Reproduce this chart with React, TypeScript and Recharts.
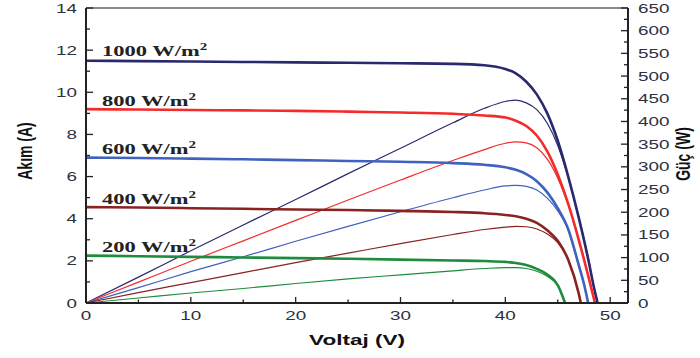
import { Line, LineChart, ReferenceLine, XAxis, YAxis } from "recharts";

// voltage (V), current (A), power (W)
const v1000 = [0, 5, 10, 15, 20, 25, 30, 35, 38, 40, 41, 42, 43, 44, 45, 46, 47, 48, 48.4, 48.8];
const i1000 = [11.5, 11.48, 11.46, 11.44, 11.42, 11.4, 11.38, 11.35, 11.28, 11.1, 10.9, 10.5, 9.9, 9.0, 7.7, 6.0, 4.05, 1.85, 0.85, 0];
const p1000 = [0, 57, 115, 172, 228, 285, 341, 397, 429, 444, 447, 441, 426, 396, 347, 276, 190, 89, 41, 0];

const v800 = [0, 5, 10, 15, 20, 25, 30, 35, 38, 40, 41, 42, 43, 44, 45, 46, 47, 48, 48.55];
const i800 = [9.2, 9.18, 9.16, 9.14, 9.12, 9.08, 9.04, 8.98, 8.9, 8.8, 8.65, 8.4, 7.95, 7.2, 6.1, 4.7, 3.0, 1.1, 0];
const p800 = [0, 46, 92, 137, 182, 227, 271, 314, 338, 352, 355, 353, 342, 317, 275, 216, 141, 53, 0];

const v600 = [0, 5, 10, 15, 20, 25, 30, 35, 38, 40, 41, 42, 43, 44, 45, 46, 47, 47.5, 47.9];
const i600 = [6.9, 6.88, 6.85, 6.82, 6.78, 6.74, 6.7, 6.64, 6.56, 6.44, 6.32, 6.12, 5.78, 5.25, 4.5, 3.5, 1.8, 0.9, 0];
const p600 = [0, 34, 69, 102, 136, 169, 201, 232, 249, 258, 259, 257, 249, 231, 203, 161, 85, 43, 0];

const v400 = [0, 5, 10, 15, 20, 25, 30, 35, 38, 40, 41, 42, 43, 44, 45, 46, 47, 47.2];
const i400 = [4.55, 4.53, 4.5, 4.47, 4.44, 4.41, 4.37, 4.32, 4.26, 4.18, 4.12, 4.0, 3.8, 3.45, 2.95, 2.05, 0.45, 0];
const p400 = [0, 23, 45, 67, 89, 110, 131, 151, 162, 167, 169, 168, 163, 152, 133, 94, 21, 0];

const v200 = [0, 5, 10, 15, 20, 25, 30, 35, 38, 40, 41, 42, 43, 44, 45, 45.7];
const i200 = [2.25, 2.22, 2.19, 2.16, 2.13, 2.1, 2.06, 2.02, 1.99, 1.95, 1.9, 1.8, 1.62, 1.35, 0.85, 0];
const p200 = [0, 11, 22, 32, 43, 53, 62, 71, 76, 78, 78, 76, 70, 59, 38, 0];

const xTicks = [0, 5, 10, 15, 20, 25, 30, 35, 40, 45, 50];
const iTicks = [0, 1, 2, 3, 4, 5, 6, 7, 8, 9, 10, 11, 12, 13, 14];
const pTicks = [0, 25, 50, 75, 100, 125, 150, 175, 200, 225, 250, 275, 300, 325, 350, 375, 400, 425, 450, 475, 500, 525, 550, 575, 600, 625, 650];

const labels = ["1000", "800", "600", "400", "200"];
const colors = ["#29296f", "#f52a2a", "#4062bf", "#8a2222", "#1e8c3e"];
const labelY = [56, 106, 154, 204, 252];

const series = [
  { v: v1000, i: i1000, p: p1000 },
  { v: v800, i: i800, p: p800 },
  { v: v600, i: i600, p: p600 },
  { v: v400, i: i400, p: p400 },
  { v: v200, i: i200, p: p200 },
].map((s) => s.v.map((v, k) => ({ v, i: s.i[k], p: s.p[k] })));

const TICK_FILL = "#2d3142";
const AXIS = "#222";
const SX = 1.45;

function LeftTick(props: any) {
  const { x, y, payload } = props;
  const major = payload.value % 2 === 0;
  return (
    <g>
      <line x1={x} y1={y} x2={x + (major ? 7 : 4)} y2={y} stroke={AXIS} strokeWidth={1.3} />
      {major && (
        <text transform={`translate(${x - 9},${y + 4.5}) scale(${SX},1)`} textAnchor="end" fontSize={13} fill={TICK_FILL} fontFamily="Liberation Sans, Arial, sans-serif">
          {payload.value}
        </text>
      )}
    </g>
  );
}

function RightTick(props: any) {
  const { x, y, payload } = props;
  const major = payload.value % 50 === 0;
  return (
    <g>
      <line x1={x} y1={y} x2={x - (major ? 7 : 4)} y2={y} stroke={AXIS} strokeWidth={1.3} />
      {major && (
        <text transform={`translate(${x + 10},${y + 4.5}) scale(${SX},1)`} textAnchor="start" fontSize={13} fill={TICK_FILL} fontFamily="Liberation Sans, Arial, sans-serif">
          {payload.value}
        </text>
      )}
    </g>
  );
}

function BottomTick(props: any) {
  const { x, y, payload } = props;
  const major = payload.value % 10 === 0;
  return (
    <g>
      <line x1={x} y1={y} x2={x} y2={y - (major ? 6 : 3.5)} stroke={AXIS} strokeWidth={1.3} />
      {major && (
        <text transform={`translate(${x},${y + 17}) scale(${SX},1)`} textAnchor="middle" fontSize={13} fill={TICK_FILL} fontFamily="Liberation Sans, Arial, sans-serif">
          {payload.value}
        </text>
      )}
    </g>
  );
}

export default function App() {
  return (
    <div style={{ position: "absolute", left: 0, top: 0, width: 700, height: 358, background: "#fff" }}>
      <LineChart width={700} height={358} margin={{ top: 8, right: 0, bottom: 0, left: 0 }}>
        <XAxis
          type="number"
          dataKey="v"
          domain={[0, 51.7]}
          ticks={xTicks}
          interval={0}
          height={55}
          tickSize={0}
          tickMargin={0}
          tickLine={false}
          axisLine={{ stroke: AXIS, strokeWidth: 2 }}
          tick={<BottomTick />}
          allowDataOverflow
        />
        <YAxis
          yAxisId="i"
          orientation="left"
          domain={[0, 14]}
          ticks={iTicks}
          interval={0}
          width={86}
          tickSize={0}
          tickMargin={0}
          tickLine={false}
          axisLine={{ stroke: AXIS, strokeWidth: 2 }}
          tick={<LeftTick />}
        />
        <YAxis
          yAxisId="p"
          orientation="right"
          domain={[0, 650]}
          ticks={pTicks}
          interval={0}
          width={72}
          tickSize={0}
          tickMargin={0}
          tickLine={false}
          axisLine={{ stroke: AXIS, strokeWidth: 2 }}
          tick={<RightTick />}
        />
        <ReferenceLine yAxisId="i" y={14} stroke="#8a8a8a" strokeWidth={2} />
        {series.map((d, k) => (
          <Line
            key={"p" + k}
            yAxisId="p"
            data={d}
            dataKey="p"
            type="monotone"
            stroke={colors[k]}
            strokeWidth={1.2}
            dot={false}
            isAnimationActive={false}
          />
        ))}
        {series.map((d, k) => (
          <Line
            key={"i" + k}
            yAxisId="i"
            data={d}
            dataKey="i"
            type="monotone"
            stroke={colors[k]}
            strokeWidth={2.6}
            dot={false}
            isAnimationActive={false}
          />
        ))}
      </LineChart>
      <svg width={700} height={358} style={{ position: "absolute", left: 0, top: 0, pointerEvents: "none" }}>
        {labels.map((l, k) => (
          <text
            key={l}
            transform={`translate(102,${labelY[k]}) scale(1.5,1)`}
            fontFamily="Liberation Serif, Times New Roman, serif"
            fontWeight="bold"
            fontSize={15}
            fill="#222"
          >
            {l} W/m
            <tspan fontSize={10} dy={-6}>2</tspan>
          </text>
        ))}
        <text
          transform={`translate(25,151) scale(${SX},1) rotate(-90)`}
          textAnchor="middle"
          dominantBaseline="central"
          fontFamily="Liberation Sans, Arial, sans-serif"
          fontWeight="bold"
          fontSize={14}
          fill="#111"
        >
          Akım (A)
        </text>
        <text
          transform={`translate(683,154) scale(${SX},1) rotate(-90)`}
          textAnchor="middle"
          dominantBaseline="central"
          fontFamily="Liberation Sans, Arial, sans-serif"
          fontWeight="bold"
          fontSize={14}
          fill="#111"
        >
          Güç (W)
        </text>
        <text
          transform="translate(357,345) scale(1.5,1)"
          textAnchor="middle"
          fontFamily="Liberation Sans, Arial, sans-serif"
          fontWeight="bold"
          fontSize={15}
          fill="#111"
        >
          Voltaj (V)
        </text>
      </svg>
    </div>
  );
}
